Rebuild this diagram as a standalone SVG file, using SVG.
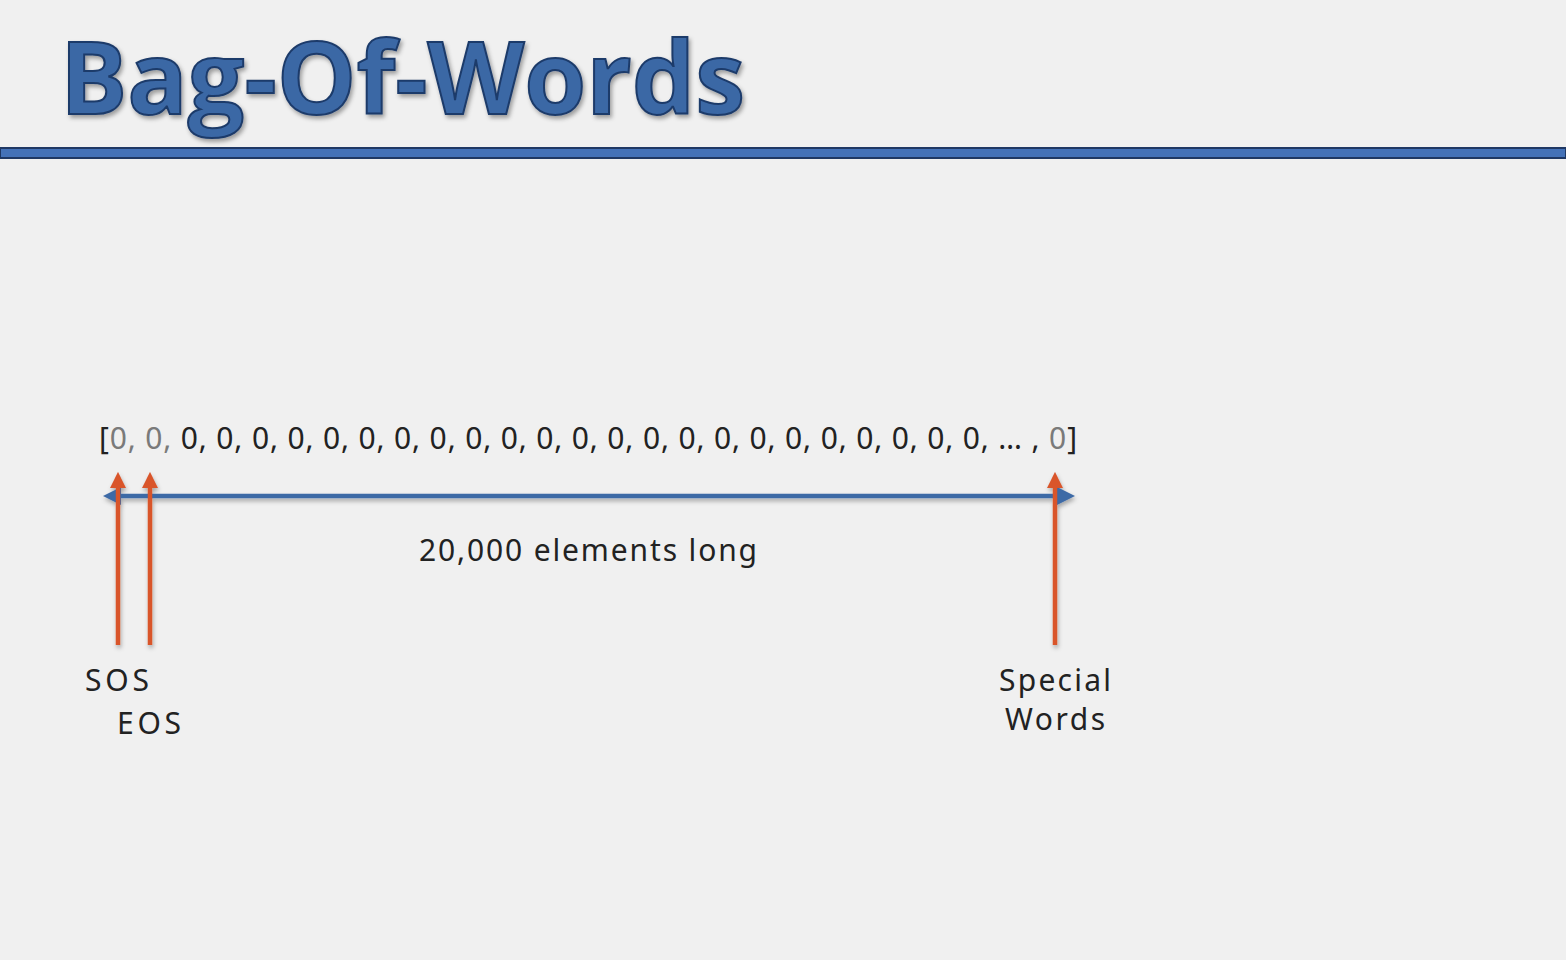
<svg xmlns="http://www.w3.org/2000/svg" width="1566" height="960" viewBox="0 0 1566 960">
<defs>
<style>
.lbl{font-family:"Noto Sans","Open Sans",sans-serif;font-size:30px;fill:#222}
.gray{fill:#7a7a7a}
.orange{stroke:#d9542b;stroke-width:4.5;fill:none}
</style>
<filter id="sh" x="-5%" y="-5%" width="110%" height="120%">
<feDropShadow dx="2" dy="3" stdDeviation="2" flood-color="#000" flood-opacity="0.35"/>
</filter>
<filter id="sh2" filterUnits="userSpaceOnUse" x="0" y="400" width="1566" height="300">
<feDropShadow dx="1" dy="3" stdDeviation="2" flood-color="#000" flood-opacity="0.3"/>
</filter>
<marker id="bh" viewBox="0 0 10 10" refX="5" refY="5" markerWidth="4" markerHeight="4" orient="auto-start-reverse" markerUnits="strokeWidth">
<path d="M0,0 L10,5 L0,10 z" fill="#3d6aa6"/>
</marker>
<marker id="oh" viewBox="0 0 10 10" refX="5" refY="5" markerWidth="3.6" markerHeight="3.6" orient="auto" markerUnits="strokeWidth">
<path d="M0,0 L10,5 L0,10 z" fill="#d9542b"/>
</marker>
</defs>
<rect width="1566" height="960" fill="#f0f0f0"/>
<g id="title">
<text x="60" y="114" font-family="'Open Sans','Lato',sans-serif" font-weight="700" font-size="100" fill="#3b67a5" stroke="#1d3b6a" stroke-width="2" textLength="685" lengthAdjust="spacingAndGlyphs" filter="url(#sh)">Bag-Of-Words</text>
</g>
<g id="rule">
<rect x="0" y="148" width="1566" height="10" fill="#4472b8" stroke="#1f3864" stroke-width="2"/>
</g>
<g id="array">
<text class="lbl" x="99" y="449" textLength="978" lengthAdjust="spacing">[<tspan class="gray">0, 0,</tspan> 0, 0, 0, 0, 0, 0, 0, 0, 0, 0, 0, 0, 0, 0, 0, 0, 0, 0, 0, 0, 0, 0, 0, … , <tspan class="gray">0</tspan>]</text>
</g>
<g id="connectors" filter="url(#sh2)">
<line x1="112" y1="496" x2="1066" y2="496" stroke="#3d6aa6" stroke-width="4.5" marker-start="url(#bh)" marker-end="url(#bh)"/>
<line class="orange" x1="118" y1="645" x2="118" y2="480" marker-end="url(#oh)"/>
<line class="orange" x1="150" y1="645" x2="150" y2="480" marker-end="url(#oh)"/>
<line class="orange" x1="1055" y1="645" x2="1055" y2="480" marker-end="url(#oh)"/>
</g>
<g id="length-label">
<text class="lbl" x="588" y="561" text-anchor="middle" textLength="338" lengthAdjust="spacing">20,000 elements long</text>
</g>
<g id="sos">
<text class="lbl" x="85" y="691" textLength="64" lengthAdjust="spacing">SOS</text>
</g>
<g id="eos">
<text class="lbl" x="117" y="734" textLength="64" lengthAdjust="spacing">EOS</text>
</g>
<g id="special">
<text class="lbl" x="1055" y="691" text-anchor="middle" textLength="112" lengthAdjust="spacing">Special</text>
<text class="lbl" x="1055" y="730" text-anchor="middle" textLength="100" lengthAdjust="spacing">Words</text>
</g>
</svg>
